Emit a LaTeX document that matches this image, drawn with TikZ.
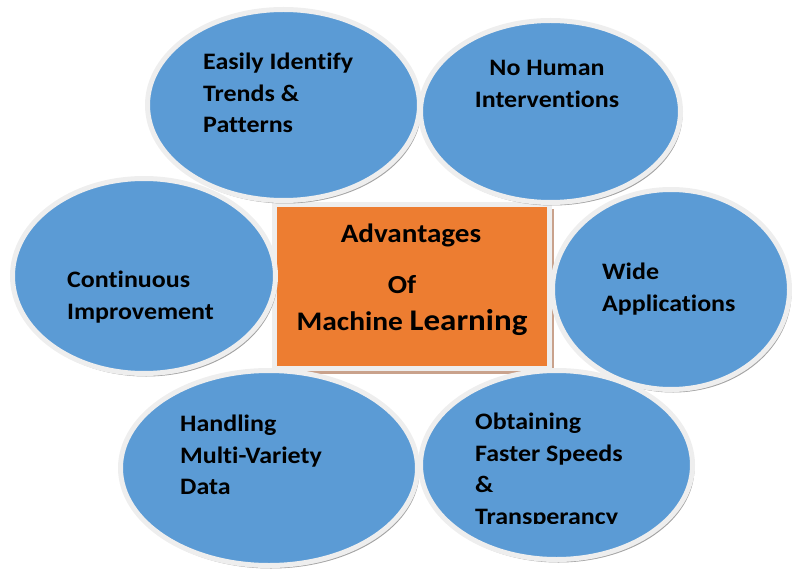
\documentclass[tikz,border=0pt]{standalone}
\usepackage{fontspec}
\setmainfont{Carlito}[FakeStretch = 1.1, Ligatures = NoCommon]
\usetikzlibrary{shapes.geometric, shadows}

\definecolor{mlblue}{HTML}{5B9BD5}
\definecolor{mlorange}{HTML}{ED7D31}
\definecolor{mlring}{HTML}{EEEEEE}
\definecolor{mlbrown}{HTML}{C9A28C}

\begin{document}
\begin{tikzpicture}[x = 1pt, y = -1pt,
	bubble/.style = {ellipse, fill = mlblue, draw = mlring, line width = 5pt,
		drop shadow = {shadow xshift = 2pt, shadow yshift = -3pt, fill = black!45, opacity = 0.8}},
	bubbletext/.style = {anchor = north west, inner sep = 0, align = left,
		font = \fontsize{23.6}{31.5}\selectfont\bfseries},
	titletext/.style = {anchor = base, inner sep = 0, font = \bfseries}]

	\useasboundingbox (0, 0) rectangle (792, 572);

	% Centre box

	\node [fill = mlorange, draw = mlring, line width = 5pt, minimum width = 275pt, minimum height = 164pt,
		drop shadow = {shadow xshift = 4pt, shadow yshift = -5pt, fill = mlbrown, opacity = 1}] (core) at (412, 286.5) {};

	\node [titletext, font = \fontsize{26.5}{31}\selectfont\bfseries] (adv) at (411, 242) {Advantages};
	\node [titletext, font = \fontsize{26}{31}\selectfont\bfseries] (of) at (402, 293) {Of};
	\node [titletext] (mlearn) at (412, 330) {\fontsize{26.8}{31}\selectfont Machine \fontsize{30}{35}\selectfont Learning};

	% Bubbles

	\node [bubble, minimum width = 263pt, minimum height = 195pt] (improve) at (144, 276) {};
	\node [bubble, minimum width = 272pt, minimum height = 191pt] (trends) at (283.5, 105) {};
	\node [bubble, minimum width = 260pt, minimum height = 182pt] (nohuman) at (550.5, 111.5) {};
	\node [bubble, minimum width = 237pt, minimum height = 200pt] (wide) at (671, 289.5) {};
	\node [bubble, minimum width = 297pt, minimum height = 195pt] (variety) at (269, 468) {};
	\node [bubble, minimum width = 272pt, minimum height = 189pt] (speed) at (556.5, 465) {};

	% Bubble texts

	\node [bubbletext] (trends-text) at (203, 53) {Easily Identify\\Trends \&\\Patterns};
	\node [bubbletext, anchor = north, align = center] (nohuman-text) at (547, 60) {No Human\\Interventions};
	\node [bubbletext] (improve-text) at (67, 271) {Continuous\\Improvement};
	\node [bubbletext] (wide-text) at (602, 263) {Wide\\Applications};
	\node [bubbletext] (variety-text) at (180, 415) {Handling\\Multi-Variety\\Data};

	\begin{scope}
		\clip (420, 380) rectangle (700, 523);
		\node [bubbletext] (speed-text) at (475, 413) {Obtaining\\Faster Speeds\\\&\\Transperancy};
	\end{scope}

\end{tikzpicture}
\end{document}
